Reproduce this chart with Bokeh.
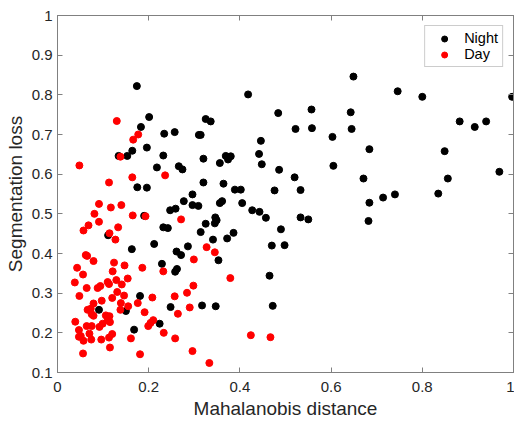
from bokeh.plotting import figure
from bokeh.models import LinearAxis, FixedTicker, Range1d, Legend, LegendItem
from bokeh.embed import file_html
from bokeh.resources import INLINE

# Night samples (Mahalanobis distance, segmentation loss)
night_x = [0.174, 0.201, 0.183, 0.196, 0.164, 0.134, 0.153, 0.175, 0.196, 0.234,
           0.232, 0.257, 0.218, 0.266, 0.274, 0.296, 0.310, 0.314, 0.325, 0.336,
           0.320, 0.320, 0.356, 0.364, 0.369, 0.374, 0.380, 0.389, 0.402, 0.418,
           0.442, 0.446, 0.448, 0.484, 0.486, 0.476, 0.557, 0.643, 0.649, 0.746,
           0.800, 0.997, 0.522, 0.558, 0.645, 0.603, 0.684, 0.882, 0.915, 0.940,
           0.849, 0.520, 0.605, 0.671, 0.856, 0.969, 0.533, 0.714, 0.740, 0.835,
           0.684, 0.533, 0.550, 0.682, 0.490, 0.470, 0.498, 0.465, 0.472, 0.443,
           0.457, 0.277, 0.247, 0.259, 0.296, 0.309, 0.356, 0.361, 0.405, 0.427,
           0.346, 0.349, 0.345, 0.325, 0.232, 0.242, 0.314, 0.386, 0.372, 0.341,
           0.212, 0.286, 0.261, 0.271, 0.353, 0.229, 0.258, 0.262, 0.248, 0.317,
           0.347, 0.224, 0.190, 0.111, 0.163, 0.181, 0.091, 0.150, 0.168]
night_y = [0.822, 0.744, 0.719, 0.667, 0.659, 0.646, 0.646, 0.567, 0.566, 0.702,
           0.647, 0.706, 0.617, 0.620, 0.612, 0.549, 0.699, 0.699, 0.739, 0.733,
           0.639, 0.579, 0.628, 0.576, 0.646, 0.637, 0.645, 0.561, 0.561, 0.801,
           0.651, 0.684, 0.625, 0.754, 0.611, 0.559, 0.763, 0.756, 0.846, 0.809,
           0.795, 0.795, 0.714, 0.716, 0.714, 0.694, 0.663, 0.733, 0.719, 0.733,
           0.658, 0.592, 0.621, 0.589, 0.589, 0.606, 0.560, 0.541, 0.549, 0.551,
           0.528, 0.491, 0.486, 0.482, 0.461, 0.420, 0.421, 0.344, 0.268, 0.505,
           0.490, 0.532, 0.509, 0.513, 0.522, 0.520, 0.527, 0.532, 0.527, 0.509,
           0.491, 0.484, 0.476, 0.475, 0.466, 0.464, 0.454, 0.452, 0.438, 0.435,
           0.424, 0.418, 0.405, 0.396, 0.383, 0.374, 0.354, 0.361, 0.265, 0.269,
           0.267, 0.223, 0.495, 0.446, 0.411, 0.293, 0.258, 0.255, 0.208]

# Day samples
day_x = [0.130, 0.177, 0.166, 0.138, 0.048, 0.113, 0.164, 0.236, 0.271, 0.327,
         0.345, 0.299, 0.232, 0.379, 0.298, 0.208, 0.257, 0.284, 0.290, 0.264,
         0.210, 0.204, 0.233, 0.258, 0.424, 0.467, 0.296, 0.333, 0.091, 0.117,
         0.140, 0.081, 0.165, 0.193, 0.068, 0.091, 0.057, 0.133, 0.114, 0.127,
         0.062, 0.065, 0.079, 0.043, 0.124, 0.121, 0.147, 0.186, 0.056, 0.038,
         0.154, 0.141, 0.064, 0.088, 0.094, 0.110, 0.113, 0.129, 0.131, 0.146,
         0.120, 0.097, 0.048, 0.079, 0.073, 0.066, 0.075, 0.079, 0.106, 0.114,
         0.139, 0.138, 0.155, 0.176, 0.191, 0.110, 0.115, 0.099, 0.092, 0.075,
         0.064, 0.039, 0.047, 0.070, 0.051, 0.047, 0.057, 0.074, 0.096, 0.113,
         0.120, 0.115, 0.056, 0.199, 0.161, 0.181]
day_y = [0.734, 0.700, 0.687, 0.644, 0.622, 0.579, 0.592, 0.597, 0.486, 0.416,
         0.403, 0.385, 0.355, 0.338, 0.319, 0.289, 0.292, 0.301, 0.264, 0.248,
         0.232, 0.225, 0.200, 0.186, 0.194, 0.189, 0.154, 0.124, 0.525, 0.516,
         0.522, 0.500, 0.496, 0.494, 0.471, 0.480, 0.458, 0.466, 0.451, 0.435,
         0.396, 0.394, 0.381, 0.364, 0.377, 0.355, 0.370, 0.364, 0.347, 0.327,
         0.337, 0.322, 0.313, 0.313, 0.318, 0.328, 0.323, 0.333, 0.303, 0.294,
         0.288, 0.281, 0.293, 0.274, 0.261, 0.258, 0.247, 0.243, 0.244, 0.242,
         0.275, 0.258, 0.267, 0.275, 0.252, 0.232, 0.227, 0.223, 0.215, 0.217,
         0.217, 0.228, 0.207, 0.198, 0.192, 0.190, 0.180, 0.183, 0.183, 0.188,
         0.197, 0.163, 0.148, 0.217, 0.186, 0.146]

x_ticks = [0, 0.2, 0.4, 0.6, 0.8, 1]
x_tick_labels = ["0", "0.2", "0.4", "0.6", "0.8", "1"]
y_ticks = [0.1, 0.2, 0.3, 0.4, 0.5, 0.6, 0.7, 0.8, 0.9, 1]
y_tick_labels = ["0.1", "0.2", "0.3", "0.4", "0.5", "0.6", "0.7", "0.8", "0.9", "1"]

FONT = "Liberation Sans"
AXIS_COLOR = "#808080"
TEXT_COLOR = "#262626"

p = figure(width=514, height=421, output_backend="svg", toolbar_location=None,
           x_range=Range1d(0, 1), y_range=Range1d(0.1, 1),
           min_border_left=57, min_border_right=1, min_border_top=15, min_border_bottom=47,
           x_axis_label="Mahalanobis distance", y_axis_label="Segmentation loss")
p.grid.visible = False
p.outline_line_color = AXIS_COLOR
p.background_fill_color = "white"
p.border_fill_color = "white"

def style_axis(ax, ticks, labels):
    ax.ticker = FixedTicker(ticks=ticks)
    ax.major_label_overrides = {t: l for t, l in zip(ticks, labels)}
    ax.major_tick_in = 5
    ax.major_tick_out = 0
    ax.minor_tick_line_color = None
    ax.axis_line_color = AXIS_COLOR
    ax.major_tick_line_color = AXIS_COLOR
    ax.major_label_text_font = FONT
    ax.major_label_text_font_size = "15px"
    ax.major_label_text_color = TEXT_COLOR
    ax.axis_label_text_font = FONT
    ax.axis_label_text_font_size = "19px"
    ax.axis_label_text_font_style = "normal"
    ax.axis_label_text_color = TEXT_COLOR

style_axis(p.xaxis[0], x_ticks, x_tick_labels)
style_axis(p.yaxis[0], y_ticks, y_tick_labels)
p.xaxis[0].major_label_standoff = 9
p.xaxis[0].axis_label_standoff = 3
p.yaxis[0].major_label_standoff = 5
p.yaxis[0].axis_label_standoff = 3

for loc, ticks in (("above", x_ticks), ("right", y_ticks)):
    ax = LinearAxis(ticker=FixedTicker(ticks=ticks))
    ax.major_tick_in = 5
    ax.major_tick_out = 0
    ax.minor_tick_line_color = None
    ax.axis_line_color = AXIS_COLOR
    ax.major_tick_line_color = AXIS_COLOR
    ax.major_label_text_color = None
    ax.major_label_standoff = 0
    p.add_layout(ax, loc)

r_night = p.scatter(night_x, night_y, size=7, marker="circle",
                    fill_color="black", line_color="black")
r_day = p.scatter(day_x, day_y, size=7, marker="circle",
                  fill_color="#ff0000", line_color="#ff0000")

legend = Legend(items=[LegendItem(label="Night", renderers=[r_night]),
                       LegendItem(label="Day", renderers=[r_day])],
                location="top_right")
legend.label_text_font = FONT
legend.label_text_font_size = "14.5px"
legend.label_text_color = "black"
legend.border_line_color = "#999999"
legend.border_line_width = 1
legend.background_fill_alpha = 1
legend.margin = 10
legend.padding = 4
legend.spacing = 0
legend.glyph_width = 30
legend.glyph_height = 15
legend.label_height = 15
legend.label_standoff = 5
p.add_layout(legend)

open("out.html", "w").write(file_html(p, INLINE))
